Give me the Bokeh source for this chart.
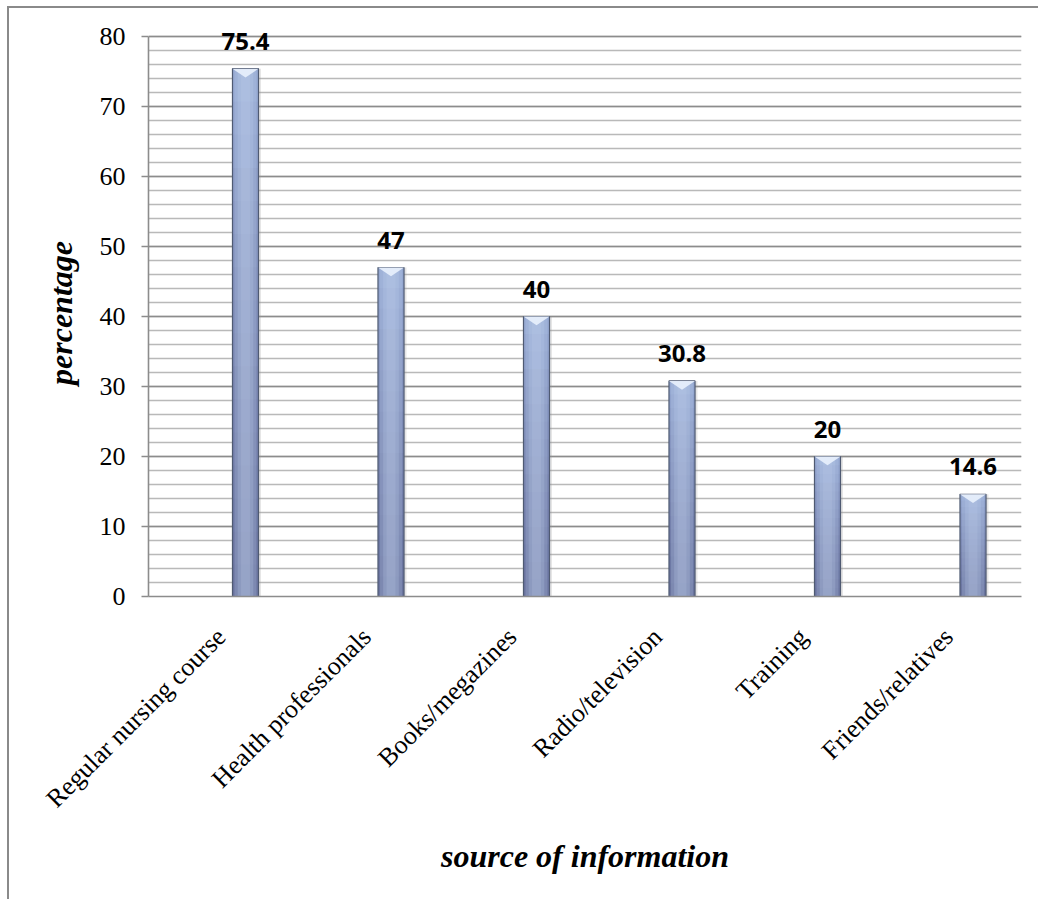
import numpy as np
from bokeh.plotting import figure
from bokeh.models import (ColumnDataSource, FixedTicker, SingleIntervalTicker, Range1d,
                          LabelSet)
from bokeh.core.properties import value
from bokeh.embed import file_html
from bokeh.resources import INLINE

# Sources of information and the share of respondents citing each (%)
categories = ["Regular nursing course", "Health professionals", "Books/megazines",
              "Radio/television", "Training", "Friends/relatives"]
percentages = [75.4, 47, 40, 30.8, 20, 14.6]
value_labels = ["75.4", "47", "40", "30.8", "20", "14.6"]
y_ticks = [0, 10, 20, 30, 40, 50, 60, 70, 80]

n = len(categories)
centers = np.arange(n) + 0.5          # category slots on the axis
bar_x = centers + 1.0 / 6.0           # bars sit a little right of the slot centre
bar_w = 0.179
vals = np.array(percentages, dtype=float)
y_max = y_ticks[-1]

# one unit of head-room above the top gridline keeps the tallest value label visible
p = figure(width=1031, height=893, x_range=Range1d(0, n), y_range=Range1d(0, y_max + 1),
           output_backend="svg", toolbar_location=None,
           min_border_left=139, min_border_right=19, min_border_top=21,
           min_border_bottom=305)
p.outline_line_color = None
p.background_fill_color = "white"
p.border_fill_color = "white"
# thin grey frame along the top and left of the whole chart
p.margin = (6, 0, 0, 7)
p.styles = {"border-top": "2px solid #8a8a8a", "border-left": "2px solid #8a8a8a"}

# ---- grid: darker every 10, lighter every 2
p.xgrid.grid_line_color = None
p.ygrid.ticker = SingleIntervalTicker(interval=10, num_minor_ticks=5)
p.ygrid.bounds = (0, y_max)
p.ygrid.grid_line_color = "#8c8c8c"
p.ygrid.grid_line_width = 1.6
p.ygrid.minor_grid_line_color = "#b9b9b9"
p.ygrid.minor_grid_line_width = 1.6

# ---- y axis
ya = p.yaxis[0]
ya.ticker = FixedTicker(ticks=y_ticks)
ya.bounds = (0, y_max)
ya.axis_line_color = "#8c8c8c"
ya.axis_line_width = 1.6
ya.major_tick_line_color = "#8c8c8c"
ya.major_tick_line_width = 1.6
ya.major_tick_out = 7
ya.major_tick_in = 0
ya.minor_tick_line_color = None
ya.major_label_standoff = 16
ya.major_label_text_font = "Liberation Serif"
ya.major_label_text_font_size = "26px"
ya.major_label_text_color = "black"
ya.axis_label = "percentage"
ya.axis_label_text_font = "Liberation Serif"
ya.axis_label_text_font_style = "bold italic"
ya.axis_label_text_font_size = "32px"
ya.axis_label_text_color = "black"
ya.axis_label_standoff = 18

# ---- x axis
xa = p.xaxis[0]
xa.ticker = FixedTicker(ticks=list(centers))
xa.major_label_overrides = {float(c): lab for c, lab in zip(centers, categories)}
xa.major_label_orientation = np.pi / 4
xa.axis_line_color = "#8c8c8c"
xa.axis_line_width = 1.6
xa.major_tick_line_color = None
xa.minor_tick_line_color = None
xa.major_label_standoff = 30
xa.major_label_text_font = "Liberation Serif"
xa.major_label_text_font_size = "26px"
xa.major_label_text_color = "black"
xa.axis_label = "source of information"
xa.axis_label_text_font = "Liberation Serif"
xa.axis_label_text_font_style = "bold italic"
xa.axis_label_text_font_size = "32px"
xa.axis_label_text_color = "black"
xa.axis_label_standoff = 11

# ---- bars
src = ColumnDataSource(dict(x=bar_x, top=vals, lab=value_labels))

# soft shadow under each bar
p.vbar(x=bar_x + 0.012, width=bar_w + 0.01, top=vals, bottom=-0.6,
       fill_color="#9a9a9a", fill_alpha=0.25, line_color=None)
# body
p.vbar(x="x", width=bar_w, top="top", bottom=0, source=src,
       fill_color="#a6bae4", line_color=None)
# darkening towards the base
for k in np.linspace(0.06, 1.0, 16):
    p.vbar(x=bar_x, width=bar_w, top=vals * k, bottom=0,
           fill_color="#3f4d70", fill_alpha=0.045, line_color=None)
# darker sides, lighter middle
p.vbar(x=bar_x, width=bar_w, top=vals, bottom=0,
       fill_color="#3f4d70", fill_alpha=0.12, line_color=None)
for frac, alpha in [(0.84, 0.22), (0.6, 0.22), (0.34, 0.18)]:
    p.vbar(x=bar_x, width=bar_w * frac, top=vals, bottom=0,
           fill_color="#c6d4f0", fill_alpha=alpha, line_color=None)
# outline
p.vbar(x="x", width=bar_w, top="top", bottom=0, source=src,
       fill_color=None, line_color="#4f5a72", line_width=1.2)
# bevel at the top of each bar
tri_depth = 1.25
p.patches(xs=[[x - bar_w / 2, x + bar_w / 2, x] for x in bar_x],
          ys=[[v, v, v - tri_depth] for v in vals],
          fill_color="#e6eefb", fill_alpha=0.95, line_color=None)

# value labels above the bars
p.add_layout(LabelSet(x="x", y="top", text="lab", source=src, text_align="center",
                      text_baseline="bottom", y_offset=19,
                      text_font=value("Open Sans"), text_font_style="bold",
                      text_font_size="24px", text_color="black"))

open("out.html", "w").write(file_html(p, INLINE))
